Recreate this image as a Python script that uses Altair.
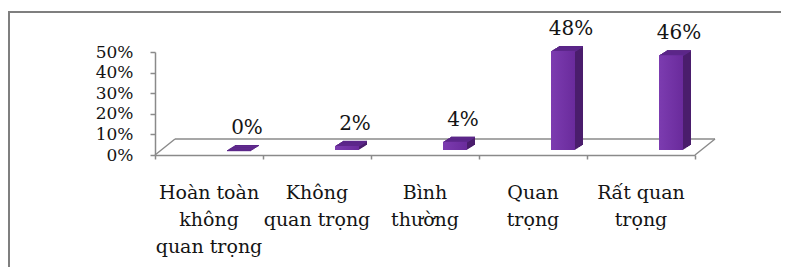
import altair as alt
import pandas as pd

# ---- data ----
categories = [
    "Hoàn toàn\nkhông\nquan trọng",
    "Không\nquan trọng",
    "Bình\nthường",
    "Quan\ntrọng",
    "Rất quan\ntrọng",
]
values = [0.00, 0.02, 0.04, 0.48, 0.46]
y_ticks = [0.0, 0.1, 0.2, 0.3, 0.4, 0.5]

df = pd.DataFrame({
    "idx": list(range(len(categories))),
    "cat": categories,
    "value": values,
    "lbl": [f"{round(v * 100)}%" for v in values],
})

FONT = "DejaVu Serif"
TEXT = "#141414"
GRAY = "#8a8a8a"
SIDE = "#4a1d6c"
TOP = "#5c278a"
FRONT = alt.LinearGradient(
    gradient="linear",
    stops=[alt.GradientStop(color="#7c3cb0", offset=0),
           alt.GradientStop(color="#6a2b9c", offset=1)],
    x1=0, x2=1, y1=0, y2=0,
)

# bar placement inside each category band (pixels) and 3D depth
BL, BR, BASE = 72, 96, -5
DEPTH_X, DEPTH_Y, STEPS = 8, -5, 8
FLOOR_X, FLOOR_Y = 20, -16

xscale = alt.Scale(domain=[0, len(categories)], nice=False, zero=False)
yscale = alt.Scale(domain=[0, 0.5], nice=False)

x_axis = alt.Axis(values=list(range(len(categories) + 1)), labels=False,
                  title=None, grid=False, tickSize=4, tickColor=GRAY,
                  domainColor=GRAY, domainWidth=1.5, tickWidth=1.5)
y_axis = alt.Axis(values=y_ticks, format=".0%", title=None, grid=False,
                  tickSize=5, tickColor=GRAY, tickWidth=1.5,
                  domainColor=GRAY, domainWidth=1.5,
                  labelFont=FONT, labelFontSize=17, labelColor=TEXT,
                  labelPadding=17, labelOverlap=False, labelBaseline="middle")

X = alt.X("idx:Q", scale=xscale, axis=x_axis)
Y = alt.Y("value:Q", scale=yscale, axis=y_axis)

base = alt.Chart(df)
one = alt.Chart(pd.DataFrame({"a": [0]}))

layers = []

# outer frame
layers.append(one.mark_rect(fillOpacity=0, stroke="#7f7f7f", strokeWidth=2).encode(
    x=alt.value(-146), x2=alt.value(900), y=alt.value(-40), y2=alt.value(400)))

# main layer carrying the axes
layers.append(base.mark_rect(opacity=0).encode(x=X, y=Y))

# floor (3D plane)
layers.append(one.mark_rule(color=GRAY, strokeWidth=1.5,
                            xOffset=FLOOR_X, x2Offset=FLOOR_X,
                            yOffset=FLOOR_Y, y2Offset=FLOOR_Y).encode(
    x=alt.XDatum(0, scale=xscale, axis=x_axis), x2=alt.datum(len(categories)),
    y=alt.YDatum(0, scale=yscale, axis=y_axis)))
for xv in (0, len(categories)):
    layers.append(one.mark_rule(color=GRAY, strokeWidth=1.5,
                                x2Offset=FLOOR_X, y2Offset=FLOOR_Y).encode(
        x=alt.XDatum(xv, scale=xscale, axis=x_axis), x2=alt.datum(xv),
        y=alt.YDatum(0, scale=yscale, axis=y_axis), y2=alt.datum(0)))

# side faces: stacked copies of the bar shifted along the depth
for k in range(STEPS, 0, -1):
    ox = DEPTH_X * k / STEPS
    oy = BASE + DEPTH_Y * k / STEPS
    layers.append(base.mark_rect(color=SIDE, xOffset=BL + ox, x2Offset=BR + ox,
                                 yOffset=oy, y2Offset=oy).encode(
        x=X, x2="idx", y=Y, y2=alt.datum(0)))

# top faces
for k in range(STEPS, -1, -1):
    ox = DEPTH_X * k / STEPS
    oy = BASE + DEPTH_Y * k / STEPS
    layers.append(base.mark_rect(color=TOP, xOffset=BL + ox, x2Offset=BR + ox,
                                 yOffset=oy, y2Offset=oy + 1.2).encode(
        x=X, x2="idx", y=Y, y2="value:Q"))

# front faces
layers.append(base.mark_rect(color=FRONT, xOffset=BL, x2Offset=BR,
                             yOffset=BASE, y2Offset=BASE).encode(
    x=X, x2="idx", y=Y, y2=alt.datum(0)))

# value labels
layers.append(base.mark_text(font=FONT, fontSize=20, color=TEXT, align="center",
                             baseline="alphabetic", dx=92, dy=-21).encode(
    x=X, y=Y, text="lbl:N"))

# category labels
layers.append(base.mark_text(font=FONT, fontSize=19, color=TEXT, align="center",
                             baseline="alphabetic", lineBreak="\n", lineHeight=27,
                             dx=54).encode(
    x=X, y=alt.value(147), text="cat:N"))

chart = alt.layer(*layers).properties(
    width=540, height=103,
    padding={"left": 147, "top": 44, "right": 86, "bottom": 112},
    autosize=alt.AutoSizeParams(type="none"),
    background="white",
).configure_view(stroke=None)

chart.save("out.html", embed_options={"renderer": "svg", "actions": False})
